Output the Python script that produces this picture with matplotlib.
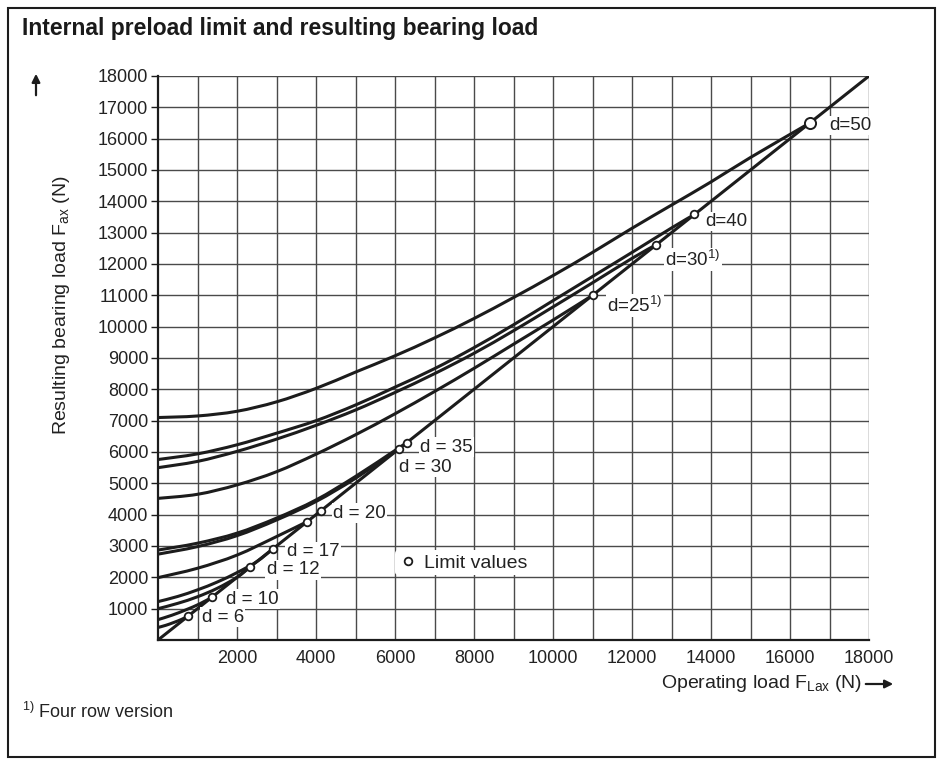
import matplotlib
matplotlib.use('Agg')
import matplotlib.pyplot as plt
from matplotlib.lines import Line2D
from matplotlib.patches import Rectangle, PathPatch, FancyArrowPatch
from matplotlib.path import Path

plt.rcParams['font.family'] = ['Liberation Sans', 'DejaVu Sans']
plt.rcParams['mathtext.fontset'] = 'custom'
plt.rcParams['mathtext.rm'] = 'Liberation Sans'
plt.rcParams['mathtext.it'] = 'Liberation Sans:italic'
plt.rcParams['mathtext.bf'] = 'Liberation Sans:bold'

# ---------------- data ----------------
x_tick_values = [2000, 4000, 6000, 8000, 10000, 12000, 14000, 16000, 18000]
y_tick_values = list(range(1000, 18001, 1000))
grid_values = list(range(0, 18001, 1000))

diag_x = [0, 18000]
diag_y = [0, 18000]

c50_x = [0, 1000, 2000, 3000, 4000, 5000, 6000, 7000, 8000, 9000, 10000, 11000, 12000, 13000, 14000, 15000, 16500]
c50_y = [7100, 7150, 7300, 7600, 8030, 8550, 9070, 9640, 10260, 10930, 11630, 12370, 13140, 13880, 14620, 15400, 16500]

c40_x = [0, 1000, 2000, 3000, 4000, 5000, 6000, 7000, 8000, 9000, 10000, 11000, 12000, 13000, 13580]
c40_y = [5760, 5940, 6230, 6600, 7000, 7500, 8070, 8660, 9330, 10060, 10830, 11600, 12370, 13150, 13580]

c30f_x = [0, 1000, 2000, 3000, 4000, 5000, 6000, 7000, 8000, 9000, 10000, 11000, 12000, 12620]
c30f_y = [5500, 5700, 6020, 6410, 6850, 7340, 7900, 8500, 9150, 9870, 10630, 11400, 12180, 12620]

c25f_x = [0, 1000, 2000, 3000, 4000, 5000, 6000, 7000, 8000, 9000, 10000, 11000]
c25f_y = [4520, 4650, 4950, 5370, 5930, 6550, 7220, 7930, 8670, 9440, 10210, 11000]

c35_x = [0, 1000, 2000, 3000, 4000, 5000, 6000, 6300]
c35_y = [2870, 3090, 3410, 3890, 4470, 5220, 6050, 6300]

c30_x = [0, 1000, 2000, 3000, 4000, 5000, 6100]
c30_y = [2740, 2980, 3330, 3830, 4420, 5160, 6100]

c15_x = [0, 1000, 2000, 3000, 3780]
c15_y = [1990, 2290, 2710, 3300, 3780]

c17_x = [0, 500, 1000, 1500, 2000, 2500, 2900]
c17_y = [1225, 1390, 1600, 1850, 2150, 2500, 2900]

c12_x = [0, 500, 1000, 1500, 2000, 2330]
c12_y = [1000, 1170, 1380, 1650, 2000, 2330]

c10_x = [0, 350, 700, 1050, 1360]
c10_y = [650, 790, 960, 1150, 1360]

c6_x = [0, 200, 400, 600, 770]
c6_y = [400, 470, 560, 660, 770]

curves_x = [c50_x, c40_x, c30f_x, c25f_x, c35_x, c30_x, c15_x, c17_x, c12_x, c10_x, c6_x]
curves_y = [c50_y, c40_y, c30f_y, c25f_y, c35_y, c30_y, c15_y, c17_y, c12_y, c10_y, c6_y]

limit_x = [770, 1360, 2330, 2900, 3780, 4120, 6100, 6300, 11000, 12620, 13580]
limit_y = [770, 1360, 2330, 2900, 3780, 4120, 6100, 6300, 11000, 12620, 13580]
limit50_x = [16500]
limit50_y = [16500]

label_texts = ['d=50', 'd=40', r'd=30$^{\mathregular{1)}}$', r'd=25$^{\mathregular{1)}}$',
               'd = 35', 'd = 30', 'd = 20', 'd = 17', 'd = 12', 'd = 10', 'd = 6']
label_x = [16990, 13850, 12835, 11370, 6630, 6110, 4440, 3257, 2750, 1722, 1105]
label_y = [16420, 13360, 12140, 10670, 6157, 5517, 4047, 2822, 2236, 1300, 725]


def smooth_path(xs, ys):
    """Catmull-Rom curve through the given points, as cubic Bezier path."""
    verts = [(xs[0], ys[0])]
    codes = [Path.MOVETO]
    n = len(xs)
    for i in range(n - 1):
        p0 = (xs[i - 1], ys[i - 1]) if i > 0 else (xs[i], ys[i])
        p1 = (xs[i], ys[i])
        p2 = (xs[i + 1], ys[i + 1])
        p3 = (xs[i + 2], ys[i + 2]) if i + 2 < n else (xs[i + 1], ys[i + 1])
        c1 = (p1[0] + (p2[0] - p0[0]) / 6, p1[1] + (p2[1] - p0[1]) / 6)
        c2 = (p2[0] - (p3[0] - p1[0]) / 6, p2[1] - (p3[1] - p1[1]) / 6)
        verts += [c1, c2, p2]
        codes += [Path.CURVE4] * 3
    return Path(verts, codes)


# ---------------- figure ----------------
W, H = 943, 763
fig = plt.figure(figsize=(W / 100, H / 100), dpi=100)
ax = fig.add_axes([158 / W, 1 - 640 / H, (869 - 158) / W, (640 - 76) / H])

ink = '#1c1c1c'
ax.set_xlim(0, 18000)
ax.set_ylim(0, 18000)

for g in grid_values[1:]:
    ax.axvline(g, color='#4a4a4a', lw=1.0, zorder=1)
    ax.axhline(g, color='#4a4a4a', lw=1.0, zorder=1)

ax.plot(diag_x, diag_y, color=ink, lw=2.2, zorder=3, solid_capstyle='butt')
for cx, cy in zip(curves_x, curves_y):
    ax.add_patch(PathPatch(smooth_path(cx, cy), facecolor='none', edgecolor=ink, lw=2.2,
                           zorder=3, capstyle='butt', joinstyle='round'))

ax.plot(limit_x, limit_y, 'o', ms=5.5, mfc='white', mec=ink, mew=1.3, zorder=5, ls='none')
ax.plot(limit50_x, limit50_y, 'o', ms=8, mfc='white', mec=ink, mew=1.4, zorder=5, ls='none')

for t, lx, ly in zip(label_texts, label_x, label_y):
    ax.text(lx, ly, t, ha='left', va='center', fontsize=13.5, color='#222222', zorder=4,
            bbox=dict(facecolor='white', edgecolor='none', pad=1.0))

handle = Line2D([], [], marker='o', ls='none', ms=5.5, mfc='white', mec=ink, mew=1.3)
leg = ax.legend([handle], ['Limit values'], loc='center left', bbox_to_anchor=(0.319, 0.137),
                frameon=True, fontsize=14, handletextpad=0.3, borderpad=0.2, handlelength=1.0)
leg.get_frame().set_facecolor('white')
leg.get_frame().set_edgecolor('none')
leg.get_frame().set_alpha(1)
for txt in leg.get_texts():
    txt.set_color('#222222')

for s in ['top', 'right']:
    ax.spines[s].set_visible(False)
for s in ['left', 'bottom']:
    ax.spines[s].set_color(ink)
    ax.spines[s].set_linewidth(1.6)
    ax.spines[s].set_zorder(6)

ax.set_xticks(x_tick_values)
ax.set_xticklabels([str(v) for v in x_tick_values])
ax.set_yticks(y_tick_values)
ax.set_yticklabels([str(v) for v in y_tick_values])
ax.tick_params(axis='x', length=0, pad=7, labelsize=13, labelcolor='#222222')
ax.tick_params(axis='y', length=5, width=1.0, color=ink, pad=2, labelsize=13, labelcolor='#222222')

# axis titles
fig.text(62 / W, 1 - 305 / H, r'Resulting bearing load F$_{\mathregular{ax}}$ (N)', rotation=90,
         ha='center', va='center', fontsize=14, color='#222222')
fig.text(862 / W, 1 - 684 / H, r'Operating load F$_{\mathregular{Lax}}$ (N)', ha='right', va='center',
         fontsize=14, color='#222222')
fig.add_artist(FancyArrowPatch((863 / W, 1 - 684 / H), (896 / W, 1 - 684 / H),
               transform=fig.transFigure, arrowstyle='-|>', mutation_scale=12, color=ink, lw=1.6))
fig.add_artist(FancyArrowPatch((36 / W, 1 - 98 / H), (36 / W, 1 - 71 / H),
               transform=fig.transFigure, arrowstyle='-|>', mutation_scale=12, color=ink, lw=1.6))

# title & footnote
fig.text(22 / W, 1 - 29 / H, 'Internal preload limit and resulting bearing load', ha='left', va='center',
         fontsize=16.5, fontweight='bold', color='#1a1a1a')
fig.text(22 / W, 1 - 712 / H, r'$^{\mathregular{1)}}$ Four row version', ha='left', va='center',
         fontsize=13, color='#222222')

fig.add_artist(Rectangle((8 / W, 6 / H), (935 - 8) / W, (755 - 6) / H, transform=fig.transFigure,
                         fill=False, edgecolor=ink, lw=1.5))

fig.savefig('out.png', dpi=100)
